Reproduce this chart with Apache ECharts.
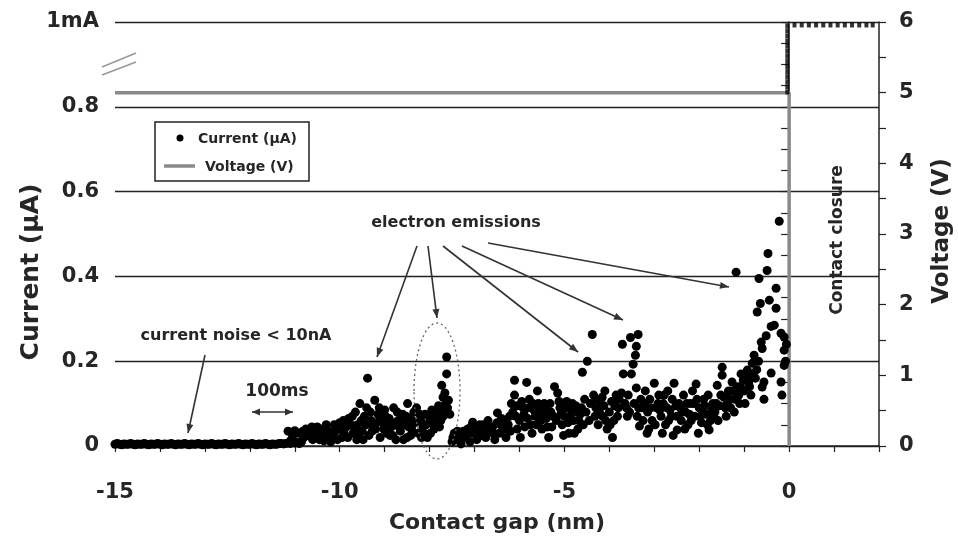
<!DOCTYPE html>
<html>
<head>
<meta charset="utf-8">
<script src="https://cdn.jsdelivr.net/npm/echarts@6/dist/echarts.min.js"></script>
<style>html,body{margin:0;padding:0;background:#fff;}#c{width:958px;height:544px;}</style>
</head>
<body>
<div id="c"></div>
<script>
// ---------- data ----------
const xTickLabels = ['-15', '-10', '-5', '0'];
const leftTickLabels = {0: '0', 0.2: '0.2', 0.4: '0.4', 0.6: '0.6', 0.8: '0.8', 1: '1mA'};

// current (µA) before contact: flat noise floor
const currentFloor = [
  [-15.0,0.004],[-14.95,0.006],[-14.9,0.004],[-14.85,0.003],[-14.8,0.005],[-14.75,0.004],[-14.7,0.004],[-14.65,0.006],
  [-14.6,0.004],[-14.55,0.003],[-14.5,0.005],[-14.45,0.004],[-14.4,0.004],[-14.35,0.006],[-14.3,0.004],[-14.25,0.003],
  [-14.2,0.005],[-14.15,0.004],[-14.1,0.004],[-14.05,0.006],[-14.0,0.004],[-13.95,0.003],[-13.9,0.005],[-13.85,0.004],
  [-13.8,0.004],[-13.75,0.006],[-13.7,0.004],[-13.65,0.003],[-13.6,0.005],[-13.55,0.004],[-13.5,0.004],[-13.45,0.006],
  [-13.4,0.004],[-13.35,0.003],[-13.3,0.005],[-13.25,0.004],[-13.2,0.004],[-13.15,0.006],[-13.1,0.004],[-13.05,0.003],
  [-13.0,0.005],[-12.95,0.004],[-12.9,0.004],[-12.85,0.006],[-12.8,0.004],[-12.75,0.003],[-12.7,0.005],[-12.65,0.004],
  [-12.6,0.004],[-12.55,0.006],[-12.5,0.004],[-12.45,0.003],[-12.4,0.005],[-12.35,0.004],[-12.3,0.004],[-12.25,0.006],
  [-12.2,0.004],[-12.15,0.003],[-12.1,0.005],[-12.05,0.004],[-12.0,0.004],[-11.95,0.006],[-11.9,0.004],[-11.85,0.003],
  [-11.8,0.005],[-11.75,0.004],[-11.7,0.004],[-11.65,0.006],[-11.6,0.004],[-11.55,0.003],[-11.5,0.005],[-11.45,0.004],
  [-11.4,0.004],[-11.35,0.006],[-11.3,0.006],[-11.25,0.005],[-11.2,0.006],[-11.1,0.006],[-11.0,0.007],[-10.9,0.006]
];
// current (µA) emission region
const currentEmission = [
  [-11.15,0.035],[-11.0,0.036],[-10.9,0.03],[-10.8,0.02],[-10.75,0.04],[-10.6,0.015],[-10.5,0.045],[-10.4,0.025],
  [-10.3,0.05],[-10.2,0.01],[-10.1,0.035],[-10.0,0.055],[-9.95,0.02],[-9.85,0.045],[-9.8,0.065],[-9.7,0.03],
  [-9.65,0.08],[-9.6,0.05],[-9.55,0.10],[-9.5,0.035],[-9.45,0.07],[-9.4,0.09],[-9.38,0.16],[-9.3,0.06],
  [-9.22,0.108],[-9.2,0.04],[-9.15,0.075],[-9.1,0.02],[-9.05,0.055],[-9.0,0.085],[-8.95,0.03],[-8.9,0.065],
  [-8.85,0.045],[-8.8,0.09],[-8.75,0.015],[-8.7,0.06],[-8.65,0.035],[-8.6,0.075],[-8.55,0.05],[-8.5,0.02],
  [-8.49,0.10],[-8.45,0.065],[-8.4,0.04],[-8.35,0.08],[-8.29,0.09],[-8.25,0.03],[-8.2,0.06],[-8.15,0.045],
  [-8.1,0.075],[-8.05,0.02],[-8.0,0.055],[-7.95,0.085],[-7.9,0.04],[-7.85,0.07],[-7.8,0.095],[-7.75,0.06],
  [-7.73,0.143],[-7.7,0.115],[-7.66,0.125],[-7.62,0.17],[-7.62,0.21],[-7.6,0.09],[-7.58,0.108],[-7.55,0.075],
  [-11.1,0.012],[-10.95,0.008],[-10.7,0.03],[-10.55,0.028],[-10.35,0.012],[-10.25,0.035],[-10.05,0.015],[-9.9,0.03],
  [-9.75,0.05],[-9.62,0.015],[-9.35,0.025],[-9.25,0.045],[-9.08,0.065],[-8.92,0.05],[-8.82,0.025],[-8.68,0.045],
  [-8.58,0.015],[-8.42,0.025],[-8.32,0.055],[-8.12,0.03],[-7.98,0.03],[-7.88,0.055],
  [-7.5,0.01],[-7.45,0.03],[-7.4,0.015],[-7.35,0.025],[-7.3,0.005],[-7.25,0.035],[-7.2,0.02],[-7.15,0.04],
  [-7.1,0.01],[-7.05,0.03],[-7.04,0.056],[-7.0,0.045],[-6.95,0.015],[-6.9,0.035],[-6.85,0.025],[-6.8,0.05],
  [-6.75,0.02],[-6.7,0.06],[-6.65,0.035],[-6.6,0.045],[-6.55,0.015],[-6.5,0.055],[-6.49,0.078],[-6.45,0.03],
  [-6.4,0.065],[-6.35,0.04],[-6.3,0.02],[-6.25,0.05],[-6.2,0.035],
  [-6.15,0.08],[-6.11,0.155],[-6.11,0.12],[-6.05,0.095],[-6.0,0.06],[-5.95,0.105],[-5.9,0.075],[-5.84,0.15],
  [-5.8,0.09],[-5.75,0.05],[-5.7,0.1],[-5.65,0.07],[-5.6,0.13],[-5.55,0.085],[-5.5,0.04],[-5.45,0.1],
  [-5.4,0.065],[-5.35,0.02],[-5.3,0.08],[-5.22,0.14],[-5.15,0.125],[-5.1,0.09],[-5.05,0.05],[-5.0,0.07],
  [-4.95,0.105],[-4.9,0.03],[-4.85,0.085],[-4.8,0.06],[-4.75,0.095],[-4.7,0.04],[-4.65,0.075],[-4.6,0.174],
  [-4.55,0.11],[-4.49,0.2],[-4.45,0.06],[-4.38,0.263],[-4.35,0.12],[-4.3,0.09],[-4.25,0.05],[-4.2,0.1],
  [-4.16,0.115],[-4.15,0.07],[-4.1,0.13],[-4.05,0.04],
  [-6.05,0.04],[-5.98,0.02],[-5.88,0.045],[-5.72,0.03],[-5.62,0.05],[-5.48,0.07],[-5.28,0.045],[-5.18,0.06],
  [-5.02,0.025],[-4.92,0.055],[-4.78,0.03],[-4.68,0.06],[-4.52,0.08],
  [-4.0,0.08],[-3.95,0.105],[-3.93,0.02],[-3.9,0.06],[-3.85,0.12],[-3.8,0.09],[-3.73,0.125],[-3.71,0.24],
  [-3.69,0.17],[-3.65,0.1],[-3.6,0.07],[-3.53,0.256],[-3.51,0.17],[-3.47,0.193],[-3.42,0.214],[-3.4,0.235],
  [-3.4,0.137],[-3.36,0.263],[-3.35,0.09],[-3.33,0.047],[-3.3,0.11],[-3.25,0.06],[-3.2,0.13],[-3.16,0.03],
  [-3.15,0.08],[-3.1,0.11],[-3.05,0.06],[-3.0,0.148],[-2.95,0.09],[-2.9,0.12],[-2.85,0.07],[-2.8,0.1],
  [-2.75,0.05],[-2.7,0.13],[-2.65,0.085],[-2.6,0.11],[-2.56,0.148],[-2.5,0.07],[-2.49,0.038],[-2.45,0.1],
  [-2.4,0.06],[-2.35,0.12],[-2.3,0.08],[-2.25,0.05],[-2.2,0.1],[-2.15,0.13],[-2.1,0.07],[-2.07,0.146],
  [-2.0,0.09],[-1.95,0.055],[-1.9,0.11],[-1.85,0.075],[-1.8,0.12],[-1.78,0.038],[-1.75,0.06],[-1.7,0.1],
  [-1.65,0.08],[-1.6,0.143],[-1.55,0.095],[-1.49,0.186],[-1.49,0.167],[-1.45,0.115],[-1.4,0.07],[-1.35,0.13],
  [-1.3,0.09],[-1.27,0.151],[-1.2,0.11],[-1.18,0.41],[-1.15,0.14],[-1.1,0.1],[-1.07,0.17],[-1.0,0.13],
  [-0.93,0.179],[-0.9,0.15],[-0.85,0.12],[-0.82,0.195],[-0.78,0.214],[-0.75,0.16],[-0.71,0.316],[-0.67,0.395],
  [-0.64,0.336],[-0.62,0.245],[-0.6,0.23],[-0.6,0.139],[-0.56,0.151],[-0.56,0.11],[-0.51,0.26],[-0.49,0.414],
  [-0.47,0.454],[-0.44,0.344],[-0.4,0.282],[-0.4,0.172],[-0.33,0.285],[-0.29,0.372],[-0.29,0.325],[-0.22,0.53],
  [-0.18,0.266],[-0.18,0.151],[-0.16,0.12],[-0.11,0.257],[-0.11,0.226],[-0.11,0.19],[-0.08,0.2],[-0.06,0.24],
  [-3.12,0.04],[-2.98,0.05],[-2.82,0.03],[-2.68,0.06],[-2.58,0.025],[-2.42,0.09],[-2.32,0.04],[-2.18,0.06],
  [-2.02,0.03],[-1.92,0.08],[-1.82,0.05],[-1.68,0.07],[-1.58,0.06],[-1.42,0.09],[-1.32,0.11],[-1.22,0.08],
  [-1.12,0.12],[-0.98,0.1],[-0.88,0.14],[-0.72,0.18],[-0.68,0.2]
];
// extra dense points filling the emission band
const currentEmissionDense = [
  [-11.05,0.025],[-10.98,0.03],[-10.85,0.01],[-10.82,0.035],[-10.65,0.022],[-10.62,0.045],[-10.45,0.015],[-10.42,0.04],
  [-10.28,0.022],[-10.15,0.025],[-10.12,0.05],[-10.02,0.04],[-9.92,0.06],[-9.82,0.02],[-9.72,0.07],[-9.68,0.045],
  [-9.58,0.03],[-9.52,0.06],[-9.48,0.015],[-9.42,0.05],[-9.32,0.08],[-9.28,0.035],[-9.18,0.055],[-9.12,0.09],
  [-9.02,0.04],[-8.98,0.07],[-8.88,0.025],[-8.78,0.055],[-8.72,0.08],[-8.62,0.055],[-8.52,0.07],[-8.47,0.045],
  [-8.38,0.06],[-8.22,0.075],[-8.18,0.02],[-8.08,0.05],[-8.02,0.07],[-7.92,0.065],[-7.82,0.08],[-7.78,0.045],
  [-7.68,0.085],[-7.64,0.1],[-7.7,0.07],
  [-7.48,0.02],[-7.38,0.035],[-7.28,0.02],[-7.18,0.03],[-7.08,0.045],[-6.98,0.03],[-6.88,0.05],[-6.78,0.035],
  [-6.68,0.045],[-6.58,0.03],[-6.42,0.05],[-6.32,0.06],[-6.22,0.07],[-6.18,0.1],
  [-6.08,0.07],[-5.92,0.09],[-5.82,0.065],[-5.78,0.11],[-5.68,0.085],[-5.58,0.1],[-5.52,0.06],[-5.42,0.085],
  [-5.38,0.045],[-5.32,0.1],[-5.25,0.07],[-5.12,0.105],[-5.08,0.075],[-4.98,0.09],[-4.88,0.07],[-4.82,0.1],
  [-4.72,0.08],[-4.62,0.09],[-4.58,0.05],[-4.42,0.1],[-4.32,0.07],[-4.28,0.11],[-4.22,0.08],[-4.12,0.095],
  [-4.08,0.06],[-3.98,0.05],[-3.88,0.095],[-3.82,0.07],[-3.78,0.11],[-3.62,0.09],[-3.58,0.12],[-3.55,0.08],
  [-3.45,0.1],[-3.38,0.07],[-3.28,0.09],[-3.22,0.1],[-3.08,0.09],[-2.92,0.1],[-2.88,0.085],[-2.78,0.12],
  [-2.72,0.09],[-2.62,0.07],[-2.52,0.095],[-2.38,0.08],[-2.28,0.1],[-2.22,0.075],[-2.12,0.1],[-2.05,0.11],
  [-1.98,0.07],[-1.88,0.095],[-1.72,0.085],[-1.62,0.1],[-1.52,0.12],[-1.38,0.1],[-1.28,0.13],[-1.18,0.125],
  [-1.08,0.14],[-1.02,0.155],[-0.95,0.16],[-0.86,0.17],[-0.8,0.17]
];
// current at compliance (1mA) after contact closure
const currentCompliance = [
  [-0.04,0.835],[-0.04,0.847],[-0.04,0.859],[-0.04,0.871],[-0.04,0.883],[-0.04,0.895],[-0.04,0.907],[-0.04,0.919],
  [-0.04,0.931],[-0.04,0.943],[-0.04,0.955],[-0.04,0.967],[-0.04,0.979],[-0.04,0.991],
  [0.12,0.993],[0.28,0.993],[0.44,0.993],[0.6,0.993],[0.76,0.993],[0.92,0.993],[1.08,0.993],[1.24,0.993],
  [1.4,0.993],[1.56,0.993],[1.72,0.993],[1.86,0.993]
];
// voltage (V)
const voltage = [[-15,5],[0,5],[0,0]];

// ---------- chart ----------
const chart = echarts.init(document.getElementById('c'));
const TXT = '#262626';
const FONT = 'DejaVu Sans';

function arrowHead(x1, y1, x2, y2, len, half) {
  const dx = x2 - x1, dy = y2 - y1, d = Math.hypot(dx, dy);
  const ux = dx / d, uy = dy / d;
  const bx = x2 - ux * len, by = y2 - uy * len;
  return {type: 'polygon', z: 100, shape: {points: [[x2, y2], [bx - uy * half, by + ux * half], [bx + uy * half, by - ux * half]]},
          style: {fill: '#333'}};
}
function arrow(x1, y1, x2, y2) {
  return [
    {type: 'line', z: 100, shape: {x1: x1, y1: y1, x2: x2, y2: y2}, style: {stroke: '#333', lineWidth: 1.6}},
    arrowHead(x1, y1, x2, y2, 9, 3.5)
  ];
}
function text(x, y, s, size, extra, align) {
  return Object.assign({type: 'text', z: 100, x: x, y: y,
    style: {text: s, font: 'bold ' + size + 'px "' + FONT + '"', fill: TXT, textAlign: align || 'center', textVerticalAlign: 'middle'}}, extra || {});
}

const graphics = [].concat(
  // axis break on left axis
  [{type: 'rect', z: 90, shape: {x: 104, y: 57, width: 18, height: 21}, style: {fill: '#fff'}},
   {type: 'line', z: 95, shape: {x1: 102, y1: 67, x2: 136, y2: 53}, style: {stroke: '#999', lineWidth: 1.5}},
   {type: 'line', z: 95, shape: {x1: 102, y1: 75, x2: 136, y2: 62}, style: {stroke: '#999', lineWidth: 1.5}}],
  // legend box
  [{type: 'rect', z: 100, shape: {x: 155, y: 122, width: 154, height: 59}, style: {fill: '#fff', stroke: '#222', lineWidth: 1.5}},
   {type: 'circle', z: 101, shape: {cx: 180, cy: 138, r: 3.5}, style: {fill: '#000'}},
   {type: 'line', z: 101, shape: {x1: 164, y1: 166, x2: 195, y2: 166}, style: {stroke: '#8a8a8a', lineWidth: 3.5}},
   text(198, 139, 'Current (µA)', 14, {z: 101}, 'left'),
   text(205, 167, 'Voltage (V)', 14, {z: 101}, 'left')],
  // annotations
  [text(456, 223, 'electron emissions', 16),
   text(236, 336, 'current noise < 10nA', 16),
   text(277, 392, '100ms', 17),
   text(838, 240, 'Contact closure', 17, {rotation: Math.PI / 2}),
   text(31, 272, 'Current (µA)', 25, {rotation: Math.PI / 2}),
   text(942, 231, 'Voltage (V)', 23, {rotation: Math.PI / 2}),
   text(497, 523, 'Contact gap (nm)', 22)],
  arrow(417, 246, 377, 357),
  arrow(428, 246, 437, 318),
  arrow(443, 246, 578, 352),
  arrow(462, 246, 623, 320),
  arrow(488, 243, 729, 287),
  arrow(205, 355, 188, 433),
  [{type: 'line', z: 100, shape: {x1: 252, y1: 412, x2: 293, y2: 412}, style: {stroke: '#333', lineWidth: 1.6}},
   arrowHead(293, 412, 252, 412, 8, 3.5), arrowHead(252, 412, 293, 412, 8, 3.5)],
  [{type: 'ellipse', z: 100, shape: {cx: 437, cy: 391, rx: 23, ry: 68}, style: {fill: 'none', stroke: '#666', lineWidth: 1.3, lineDash: [2, 3]}}]
);

const option = {
  animation: false,
  backgroundColor: '#fff',
  grid: {left: 115, right: 79, top: 22, bottom: 98, containLabel: false},
  xAxis: {
    type: 'value', min: -15, max: 2, interval: 1,
    axisLine: {show: true, onZero: false, lineStyle: {color: '#222', width: 1.5}},
    axisTick: {show: true, length: 6, lineStyle: {color: '#222', width: 1.2}},
    splitLine: {show: false},
    axisLabel: {
      margin: 36, color: TXT, fontFamily: FONT, fontWeight: 'bold', fontSize: 21,
      formatter: function (v) { const s = String(v); return xTickLabels.indexOf(s) >= 0 ? s : ''; }
    }
  },
  yAxis: [
    {
      type: 'value', min: 0, max: 1, interval: 0.2, position: 'left',
      axisLine: {show: true, lineStyle: {color: '#222', width: 1.5}},
      axisTick: {show: true, length: 8, lineStyle: {color: '#222', width: 1.2}},
      minorTick: {show: true, splitNumber: 4, length: 8, lineStyle: {color: '#222', width: 1.2}},
      splitLine: {show: true, lineStyle: {color: '#222', width: 1.3}},
      axisLabel: {
        margin: 16, color: TXT, fontFamily: FONT, fontWeight: 'bold', fontSize: 21,
        formatter: function (v) { const k = Math.round(v * 10) / 10; return leftTickLabels[k] || ''; }
      }
    },
    {
      type: 'value', min: 0, max: 6, interval: 1, position: 'right',
      axisLine: {show: true, lineStyle: {color: '#222', width: 1.5}},
      axisTick: {show: true, length: 7, lineStyle: {color: '#222', width: 1.2}},
      minorTick: {show: true, splitNumber: 2, length: 7, lineStyle: {color: '#222', width: 1.2}},
      splitLine: {show: false},
      axisLabel: {margin: 20, color: TXT, fontFamily: FONT, fontWeight: 'bold', fontSize: 21}
    }
  ],
  series: [
    {
      name: 'Voltage (V)', type: 'line', yAxisIndex: 1, data: voltage, symbol: 'none', z: 3,
      lineStyle: {color: '#8a8a8a', width: 3.5}
    },
    {
      name: 'Current (µA)', type: 'scatter', yAxisIndex: 0,
      data: currentFloor.concat(currentEmission, currentEmissionDense),
      symbol: 'circle', symbolSize: 9, itemStyle: {color: '#000', opacity: 1}, z: 4
    },
    {
      name: 'Current compliance', type: 'scatter', yAxisIndex: 0, data: currentCompliance,
      symbol: 'rect', symbolSize: [4, 5], itemStyle: {color: '#000'}, z: 5
    }
  ],
  graphic: graphics
};
chart.setOption(option);
</script>
</body>
</html>
